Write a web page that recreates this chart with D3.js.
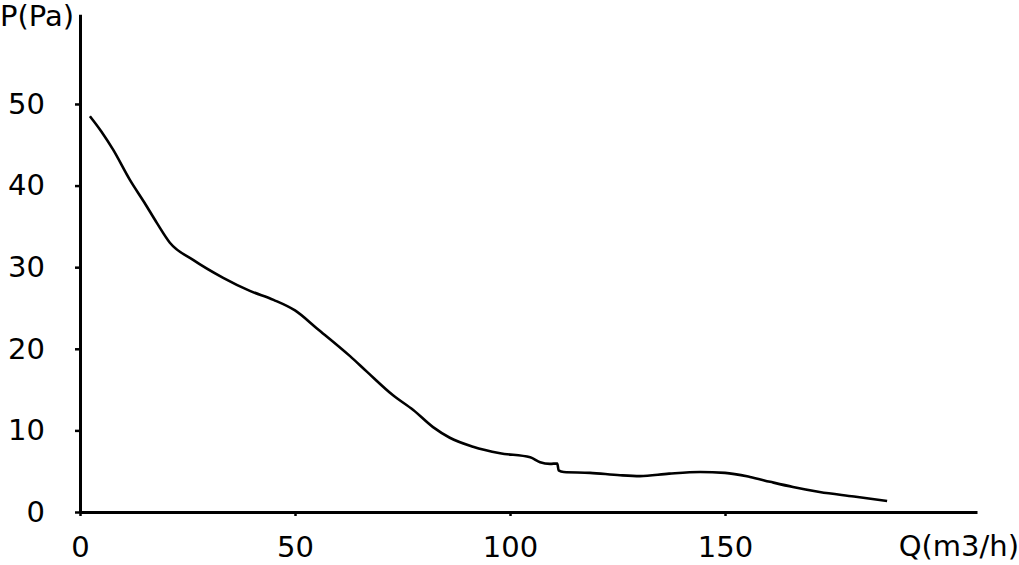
<!DOCTYPE html>
<html>
<head>
<meta charset="utf-8">
<script src="https://cdn.jsdelivr.net/npm/d3@7/dist/d3.min.js"></script>
<style>
  html, body { margin: 0; padding: 0; background: #fff; }
  svg { display: block; }
  text { font-family: "DejaVu Sans", sans-serif; fill: #000; }
</style>
</head>
<body>
<svg id="chart" width="1019" height="565"></svg>
<script>
const flowQ = [2.3, 5, 7.7, 11.6, 15, 17.9, 20.9, 26.3, 33.3, 39.5, 45, 50, 55.1, 62.8, 66.7, 72.8, 77.5, 82.1, 86, 91.4, 97.7, 104.7, 107, 109.3, 111.0, 111.3, 112.5, 118.6, 125.6, 130.2, 137, 144.2, 150, 155.8, 160.5, 165.8, 172, 180, 187.7];
const pressureP = [48.5, 46.6, 44.4, 40.7, 37.9, 35.4, 33, 30.9, 28.7, 27.1, 26, 24.7, 22.5, 19.1, 17.2, 14.3, 12.5, 10.4, 9.1, 8.0, 7.2, 6.7, 6.1, 5.9, 5.95, 5.1, 4.9, 4.8, 4.5, 4.4, 4.7, 4.9, 4.8, 4.3, 3.7, 3.06, 2.45, 1.9, 1.35];
const xTicks = [0, 50, 100, 150];
const yTicks = [0, 10, 20, 30, 40, 50];
const xTitle = "Q(m3/h)";
const yTitle = "P(Pa)";

const svg = d3.select("#chart");
const x = d3.scaleLinear().domain([0, 208.6]).range([80, 977]);
const y = d3.scaleLinear().domain([0, 61]).range([512, 14.2]);

const fontSize = 29;
const fontFam = "'DejaVu Sans', sans-serif";

const gx = svg.append("g").attr("transform", `translate(0,${y(0)})`)
  .call(d3.axisBottom(x).tickValues(xTicks).tickFormat(d3.format("d")).tickSizeInner(4).tickSizeOuter(0).tickPadding(20));
const gy = svg.append("g").attr("transform", `translate(${x(0)},0)`)
  .call(d3.axisLeft(y).tickValues(yTicks).tickFormat(d3.format("d")).tickSizeInner(5).tickSizeOuter(0).tickPadding(30));

[gx, gy].forEach(g => {
  g.select(".domain").attr("stroke", "#000").attr("stroke-width", 3);
  g.selectAll(".tick line").attr("stroke", "#000").attr("stroke-width", 2.5);
  g.selectAll(".tick text").attr("font-size", fontSize).attr("font-family", fontFam).attr("fill", "#000");
});

const pts = flowQ.map((q, i) => [q, pressureP[i]]);
const line = d3.line().x(d => x(d[0])).y(d => y(d[1])).curve(d3.curveMonotoneX);
svg.append("path").datum(pts).attr("d", line)
  .attr("fill", "none").attr("stroke", "#000").attr("stroke-width", 2.6).attr("stroke-linejoin", "round");

svg.append("text").attr("x", 0).attr("y", 26).attr("font-size", fontSize).text(yTitle);
svg.append("text").attr("x", 1019).attr("y", 556).attr("text-anchor", "end").attr("font-size", fontSize).text(xTitle);
</script>
</body>
</html>
